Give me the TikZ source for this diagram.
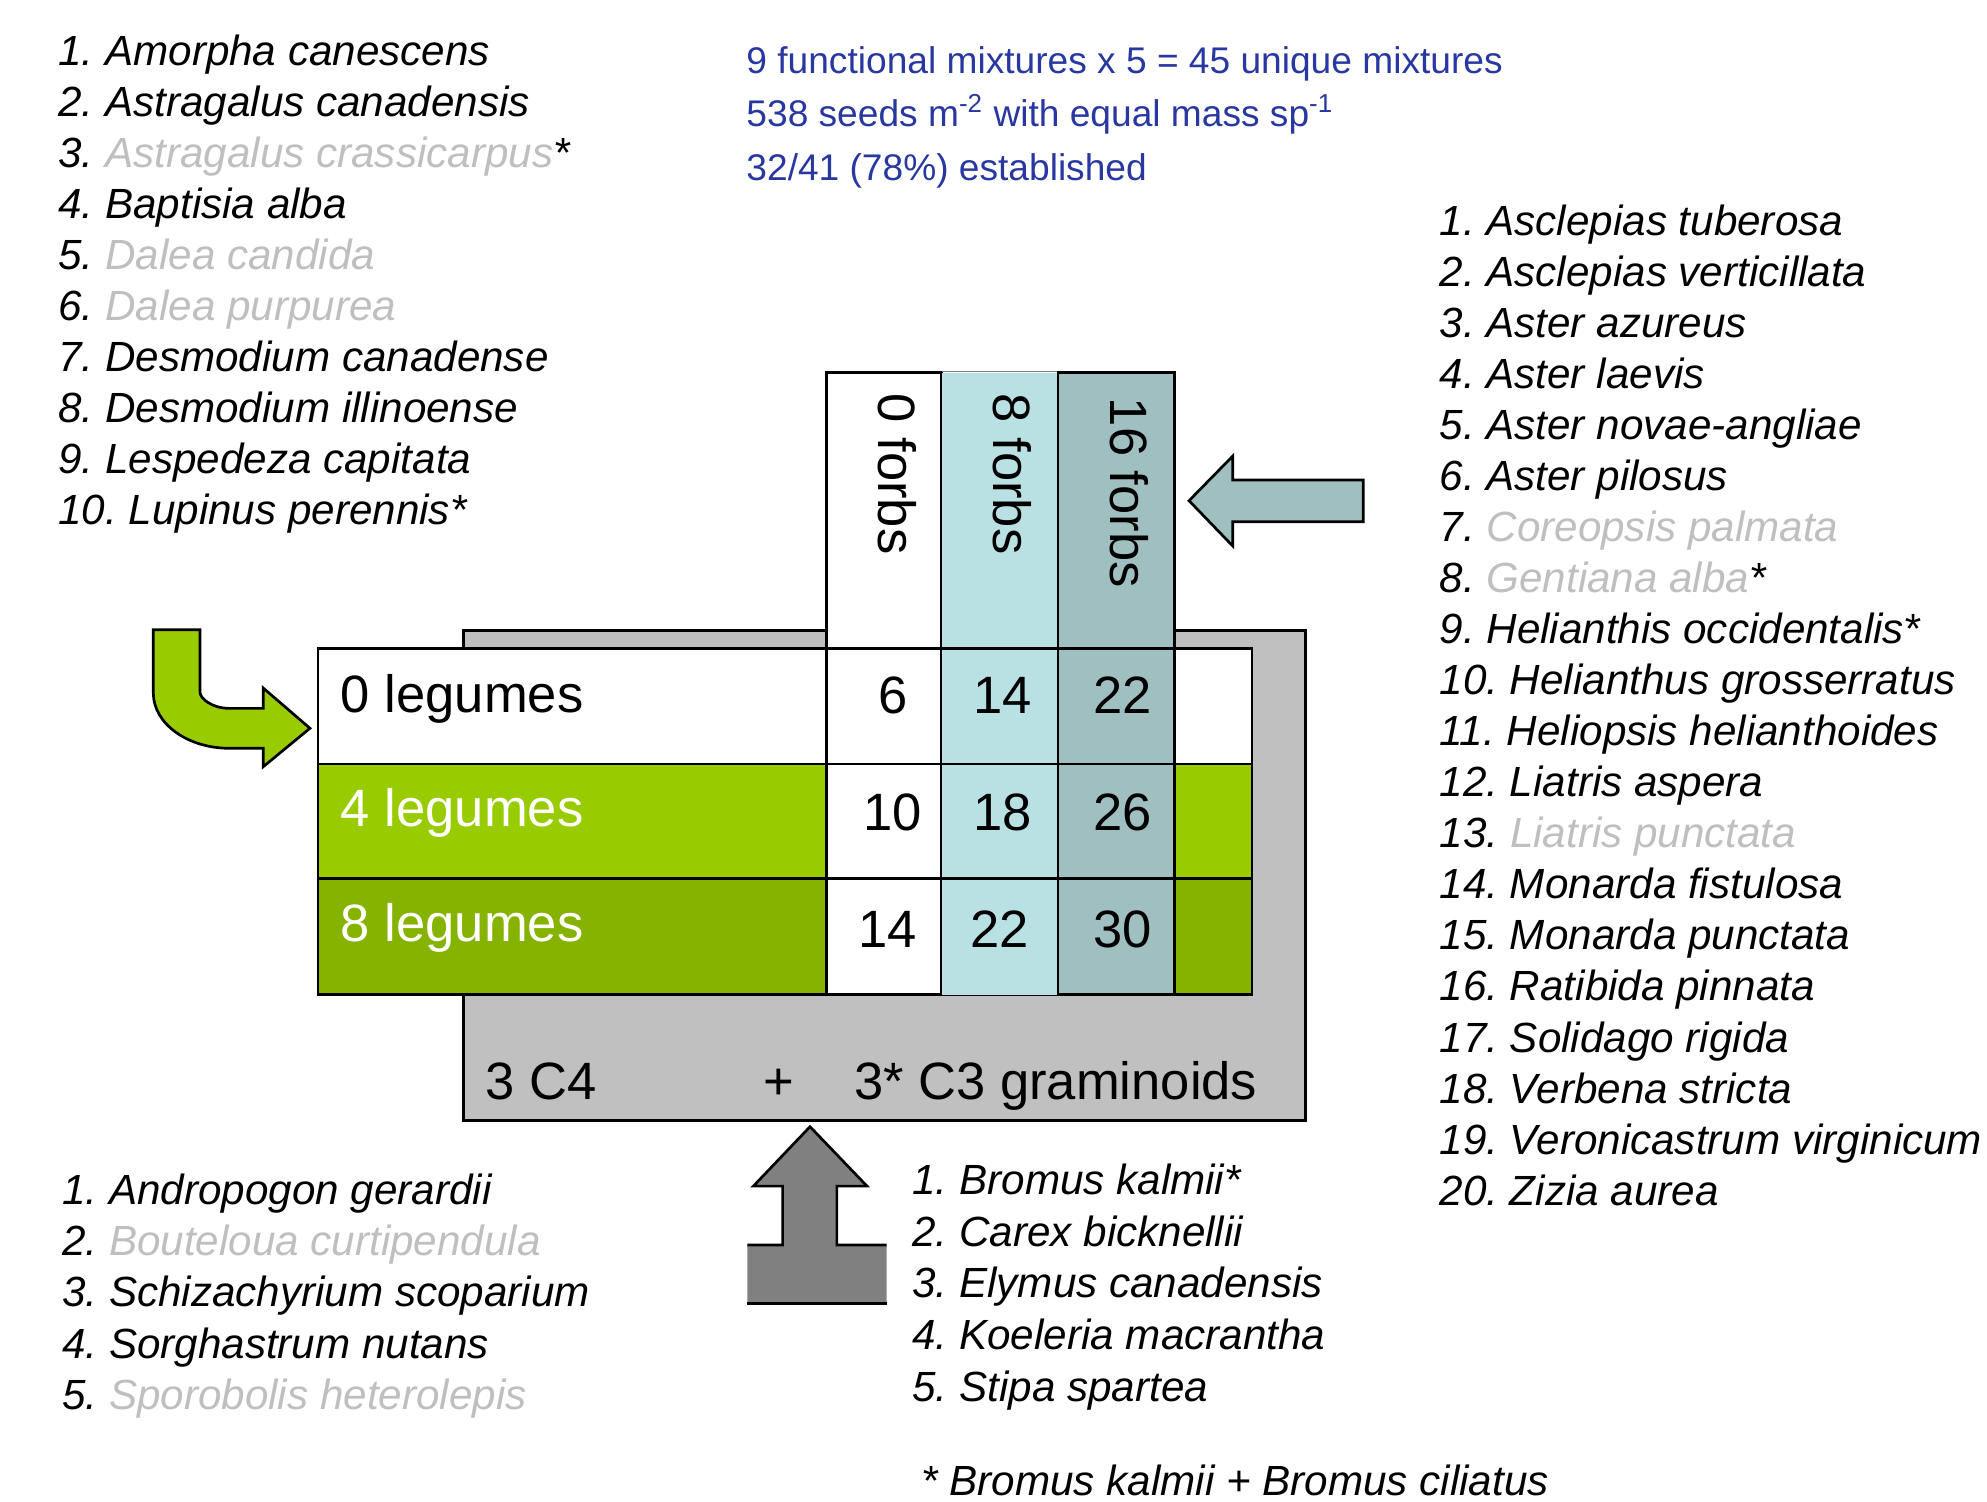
\documentclass[tikz,border=0pt]{standalone}
\usepackage{fontspec}
\setmainfont{Liberation Sans}
\usepackage{xcolor}
\definecolor{spgray}{RGB}{191,191,191}
\definecolor{infoblue}{RGB}{40,56,160}
\definecolor{boxgray}{RGB}{192,192,192}
\definecolor{legA}{RGB}{153,204,0}
\definecolor{legB}{RGB}{134,178,0}
\definecolor{forbA}{RGB}{185,224,227}
\definecolor{forbB}{RGB}{160,191,193}
\definecolor{arrgray}{RGB}{128,128,128}
\newcommand{\faded}[1]{\textcolor{spgray}{#1}}
\frenchspacing

\begin{document}
\begin{tikzpicture}[x=0.2mm,y=-0.2mm,line width=1.2pt,
	sp/.style={anchor=base west,inner sep=0pt,font=\fontsize{18.95}{22}\selectfont\itshape},
	info/.style={anchor=base west,inner sep=0pt,text=infoblue,font=\fontsize{16.67}{20}\selectfont},
	big/.style={inner sep=0pt,font=\fontsize{23.6}{28}\selectfont}]
	\useasboundingbox (0,0) rectangle (1568,1185);
	\node[info] (mix) at (588,57.8) {9 functional mixtures x 5 = 45 unique mixtures};
	\node[info] (seed) at (588,100) {538 seeds m\textsuperscript{-2} with equal mass sp\textsuperscript{-1}};
	\node[info] (est) at (588,142.3) {32/41 (78\%) established};
	\foreach \n/\name in {1/Amorpha canescens, 2/Astragalus canadensis, 3/{\faded{Astragalus crassicarpus}*}, 4/Baptisia alba, 5/\faded{Dalea candida}, 6/\faded{Dalea purpurea}, 7/Desmodium canadense, 8/Desmodium illinoense, 9/Lespedeza capitata, 10/Lupinus perennis*}
		\node[sp] (leg\n) at (45,{51.6+(\n-1)*40.25}) {\n. \name};
	\foreach \n/\name in {1/Asclepias tuberosa, 2/Asclepias verticillata, 3/Aster azureus, 4/Aster laevis, 5/Aster novae-angliae, 6/Aster pilosus, 7/\faded{Coreopsis palmata}, 8/{\faded{Gentiana alba}*}, 9/Helianthis occidentalis*, 10/Helianthus grosserratus, 11/Heliopsis helianthoides, 12/Liatris aspera, 13/\faded{Liatris punctata}, 14/Monarda fistulosa, 15/Monarda punctata, 16/Ratibida pinnata, 17/Solidago rigida, 18/Verbena stricta, 19/Veronicastrum virginicum, 20/Zizia aurea}
		\node[sp] (forb\n) at (1135,{185.7+(\n-1)*40.28}) {\n. \name};
	\foreach \n/\name in {1/Andropogon gerardii, 2/\faded{Bouteloua curtipendula}, 3/Schizachyrium scoparium, 4/Sorghastrum nutans, 5/\faded{Sporobolis heterolepis}}
		\node[sp] (cfour\n) at (48,{950.2+(\n-1)*40.55}) {\n. \name};
	\foreach \n/\name in {1/Bromus kalmii*, 2/Carex bicknellii, 3/Elymus canadensis, 4/Koeleria macrantha, 5/Stipa spartea}
		\node[sp] (cthree\n) at (719,{942.8+(\n-1)*40.7}) {\n. \name};
	\node[sp] (note) at (726,1180.5) {* Bromus kalmii + Bromus ciliatus};
	\draw[fill=boxgray] (366,497.5) rectangle (1030,884);
	\draw[fill=white] (251,512) rectangle (988,603);
	\draw[fill=legA] (251,603) rectangle (988,693);
	\draw[fill=legB] (251,693) rectangle (988,785);
	\draw[fill=white] (652,294) rectangle (743,785);
	\fill[forbA] (743,294) rectangle (835,785);
	\draw[gray,line width=0.6pt] (743,293) -- (835,293);
	\draw[fill=forbB] (835,294) rectangle (927,785);
	\foreach \y in {512,603,693}
		\draw (652,\y) -- (927,\y);
	\foreach \r/\txt/\col/\y in {1/0 legumes/black/562, 2/4 legumes/white/652, 3/8 legumes/white/743}
		\node[big,anchor=base west,text=\col] (row\r) at (268,\y) {\txt};
	\foreach \c/\txt/\x/\y in {1/0 forbs/693/309.6, 2/8 forbs/784/309.6, 3/16 forbs/876/313}
		\node[big,anchor=base west,rotate=-90] (col\c) at (\x,\y) {\txt};
	\foreach \v/\x/\y [count=\i] in {6/704.5/563, 14/791/563, 22/885.7/563, 10/704.5/655, 18/791/655, 26/885.7/655, 14/700.4/748, 22/789/748, 30/885.7/748}
		\node[big,anchor=base] (num\i) at (\x,\y) {\v};
	\node[big,anchor=base west] (cfour) at (382,868) {3 C4};
	\node[big,anchor=base] (plus) at (614.6,868) {+};
	\node[big,anchor=base west] (cthree) at (673,868) {3* C3 graminoids};
	\draw[fill=legA] (121,497) -- (121,547) .. controls (121,571) and (148,590.5) .. (181,590.5) -- (207.8,590.5) -- (207.8,605) -- (244.6,574.7) -- (207.8,543) -- (207.8,559) -- (181,559) .. controls (168.2,559) and (157.8,551.8) .. (157.8,546) -- (157.8,497) -- cycle;
	\draw[fill=forbB] (1075.8,378.8) -- (972.8,378.8) -- (972.8,359.9) -- (938.3,395.1) -- (972.8,430.9) -- (972.8,411.7) -- (1075.8,411.7) -- cycle;
	\fill[arrgray] (589.7,982.5) -- (617.6,982.5) -- (617.6,936) -- (594.5,936) -- (639.2,889.1) -- (684.2,936) -- (660.4,936) -- (660.4,982.5) -- (699.7,982.5) -- (699.7,1028.5) -- (589.7,1028.5) -- cycle;
	\draw (589.7,982.5) -- (617.6,982.5) -- (617.6,936) -- (594.5,936) -- (639.2,889.1) -- (684.2,936) -- (660.4,936) -- (660.4,982.5) -- (699.7,982.5);
	\draw (589.7,1028.5) -- (699.7,1028.5);
\end{tikzpicture}
\end{document}
